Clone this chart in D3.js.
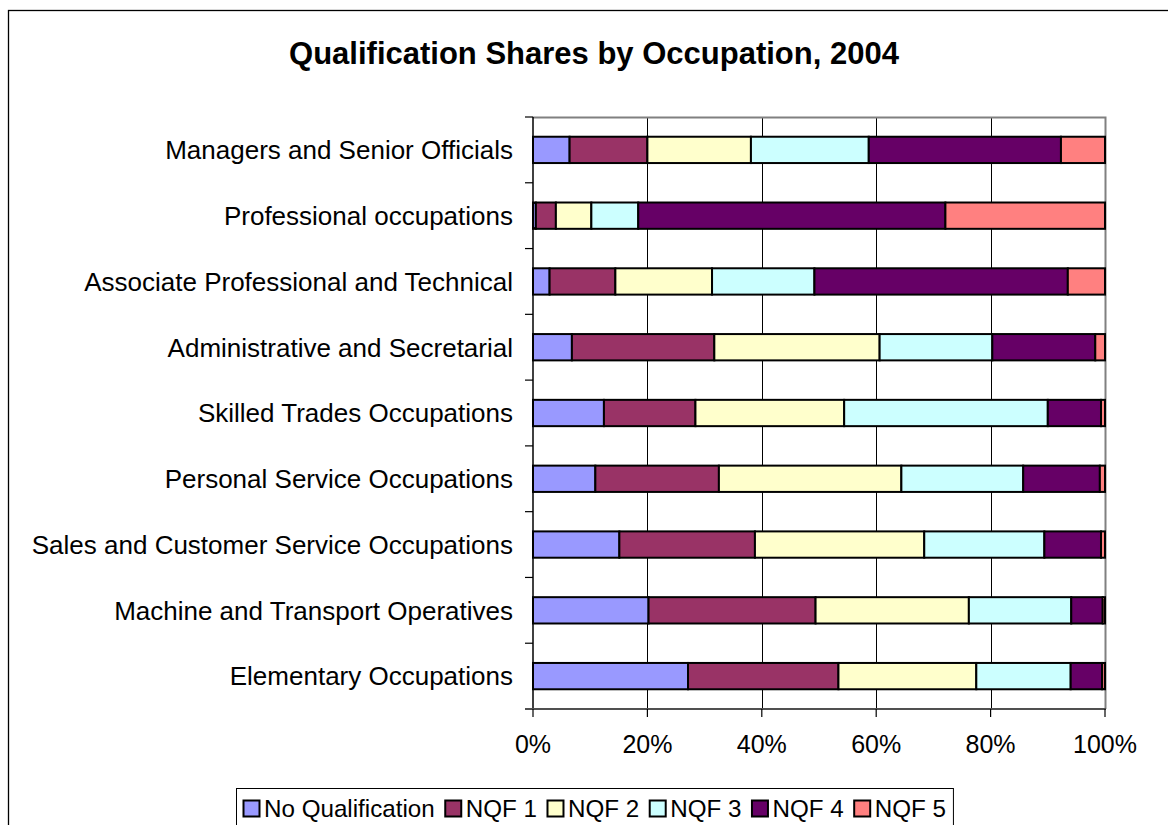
<!DOCTYPE html>
<html>
<head>
<meta charset="utf-8">
<script src="https://cdn.jsdelivr.net/npm/d3@7/dist/d3.min.js"></script>
<style>
  html, body { margin: 0; padding: 0; background: #fff; }
  svg { display: block; }
  text { font-family: Arial, "Liberation Sans", sans-serif; fill: #000; }
</style>
</head>
<body>
<svg id="chart" width="1168" height="825"></svg>
<script>
const title = "Qualification Shares by Occupation, 2004";
const categories = [
  "Managers and Senior Officials",
  "Professional occupations",
  "Associate Professional and Technical",
  "Administrative and Secretarial",
  "Skilled Trades Occupations",
  "Personal Service Occupations",
  "Sales and Customer Service Occupations",
  "Machine and Transport Operatives",
  "Elementary Occupations"
];
const seriesNames = ["No Qualification", "NQF 1", "NQF 2", "NQF 3", "NQF 4", "NQF 5"];
const noQualification = [6.4, 0.5, 2.9, 6.8, 12.4, 10.9, 15.1, 20.2, 27.1];
const nqf1 = [13.6, 3.5, 11.5, 24.9, 16.0, 21.6, 23.7, 29.2, 26.3];
const nqf2 = [18.1, 6.2, 16.9, 28.9, 26.0, 31.9, 29.6, 26.8, 24.1];
const nqf3 = [20.6, 8.2, 17.9, 19.7, 35.6, 21.3, 21.0, 17.9, 16.5];
const nqf4 = [33.6, 53.7, 44.3, 18.0, 9.3, 13.4, 9.9, 5.5, 5.5];
const nqf5 = [7.7, 27.9, 6.5, 1.7, 0.7, 0.9, 0.7, 0.4, 0.5];
const xTicks = [0, 0.2, 0.4, 0.6, 0.8, 1.0];
const colors = ["#9999FF", "#993366", "#FFFFCC", "#CCFFFF", "#660066", "#FF8080"];

const seriesValues = [noQualification, nqf1, nqf2, nqf3, nqf4, nqf5];
const rows = categories.map((c, i) => {
  const r = { category: c };
  const total = d3.sum(seriesValues, s => s[i]);
  seriesNames.forEach((n, k) => r[n] = seriesValues[k][i] / total);
  return r;
});

const svg = d3.select("#chart");
const plot = { left: 533, right: 1105, top: 117, bottom: 709 };

// chart border
svg.append("rect").attr("x", 8.5).attr("y", 10.5).attr("width", 1200).attr("height", 900)
  .attr("fill", "#fff").attr("stroke", "#000").attr("stroke-width", 1.3);

// title
svg.append("text").attr("x", 594).attr("y", 64)
  .attr("text-anchor", "middle").attr("font-size", 31).attr("font-weight", "bold")
  .text(title);

const x = d3.scaleLinear().domain([0, 1]).range([plot.left, plot.right]);
const y = d3.scaleBand().domain(categories).range([plot.top, plot.bottom]).paddingInner(0.6).paddingOuter(0.3);
const yb = d3.scaleBand().domain(categories).range([plot.top, plot.bottom]);

// gridlines
svg.append("g").selectAll("line").data(xTicks.slice(1, -1)).join("line")
  .attr("x1", d => Math.round(x(d)) + 0.5).attr("x2", d => Math.round(x(d)) + 0.5)
  .attr("y1", plot.top).attr("y2", plot.bottom)
  .attr("stroke", "#000").attr("stroke-width", 1);

// plot area border (top/right)
svg.append("path")
  .attr("d", `M${plot.left},${plot.top + 0.5}H${plot.right + 0.5}V${plot.bottom}`)
  .attr("fill", "none").attr("stroke", "#808080").attr("stroke-width", 2);

// bars
const stack = d3.stack().keys(seriesNames)(rows);
svg.append("g").selectAll("g").data(stack).join("g")
  .attr("fill", (d, i) => colors[i])
  .selectAll("rect").data(d => d).join("rect")
  .attr("x", d => x(d[0]))
  .attr("width", d => Math.max(0, x(d[1]) - x(d[0])))
  .attr("y", d => y(d.data.category))
  .attr("height", y.bandwidth())
  .attr("stroke", "#000").attr("stroke-width", 2);

// y axis
const yAxis = svg.append("g").attr("transform", `translate(${plot.left},0)`);
yAxis.append("line").attr("x1", 0).attr("x2", 0).attr("y1", plot.top).attr("y2", plot.bottom + 1)
  .attr("stroke", "#000").attr("stroke-width", 1.5);
const yTickPos = d3.range(categories.length + 1).map(i => plot.top + i * yb.step());
yAxis.selectAll("line.tick").data(yTickPos).join("line").attr("class", "tick")
  .attr("x1", -8).attr("x2", 0).attr("y1", d => d).attr("y2", d => d)
  .attr("stroke", "#000").attr("stroke-width", 1.2);
yAxis.selectAll("text").data(categories).join("text")
  .attr("x", -20).attr("y", d => yb(d) + yb.bandwidth() / 2)
  .attr("dy", "0.36em").attr("text-anchor", "end").attr("font-size", 26)
  .text(d => d);

// x axis
const xAxis = svg.append("g").attr("transform", `translate(0,${plot.bottom})`);
xAxis.append("line").attr("x1", plot.left - 8).attr("x2", plot.right + 1).attr("y1", 0).attr("y2", 0)
  .attr("stroke", "#505050").attr("stroke-width", 2);
xAxis.selectAll("line.tick").data(xTicks).join("line").attr("class", "tick")
  .attr("x1", d => x(d)).attr("x2", d => x(d)).attr("y1", 0).attr("y2", 8)
  .attr("stroke", "#000").attr("stroke-width", 1.2);
xAxis.selectAll("text").data(xTicks).join("text")
  .attr("x", d => x(d)).attr("y", 44)
  .attr("text-anchor", "middle").attr("font-size", 25)
  .text(d => d3.format(".0%")(d));

// legend
const legend = svg.append("g");
const lgBox = legend.append("rect").attr("x", 236.5).attr("y", 788.5).attr("height", 60)
  .attr("fill", "#fff").attr("stroke", "#000").attr("stroke-width", 1);
let cx = 243;
seriesNames.forEach((n, i) => {
  legend.append("rect").attr("x", cx + 0.5).attr("y", 800.5).attr("width", 16).attr("height", 16)
    .attr("fill", colors[i]).attr("stroke", "#000").attr("stroke-width", 2);
  const t = legend.append("text").attr("x", cx + 21).attr("y", 817)
    .attr("font-size", 24.2).text(n);
  cx += 21 + t.node().getComputedTextLength() + 10;
});
lgBox.attr("width", cx - 236 - 3);
</script>
</body>
</html>
